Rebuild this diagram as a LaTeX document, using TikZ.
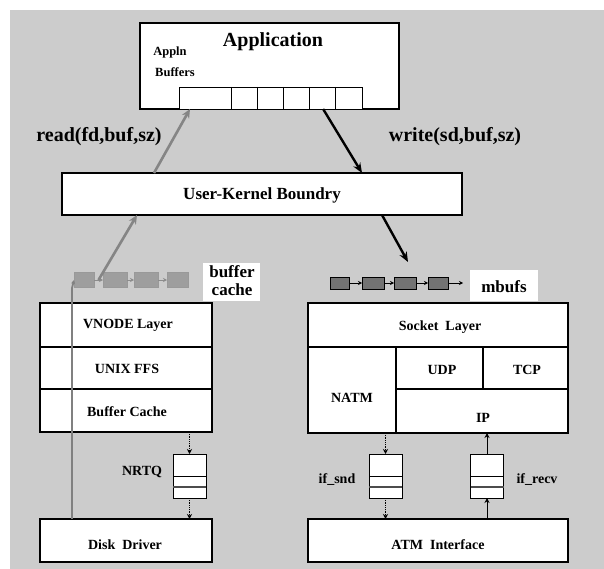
\documentclass[tikz,border=0pt]{standalone}
\usepackage{fontspec}
\setmainfont{Liberation Serif}
\usetikzlibrary{calc,arrows.meta}
\begin{document}
\begin{tikzpicture}[x=1pt,y=-1pt,
  box/.style={draw=black, line width=1.1pt, fill=white, inner sep=0pt, outer sep=0pt},
  qbox/.style={draw=black, line width=0.9pt, fill=white, inner sep=0pt, outer sep=0pt,
    minimum width=33pt, minimum height=44pt},
  lbl/.style={font=\bfseries\fontsize{14}{16}\selectfont, inner sep=0pt},
  smalllbl/.style={font=\bfseries\fontsize{12.5}{15}\selectfont, inner sep=0pt},
  midlbl/.style={font=\bfseries\fontsize{17}{18}\selectfont, inner sep=0pt, align=center},
  biglbl/.style={font=\bfseries\fontsize{20}{22}\selectfont, inner sep=0pt},
  readarrow/.style={draw=black!48, line width=2.6pt, -{Stealth[length=9pt,width=8pt]}},
  writearrow/.style={draw=black, line width=2.4pt, -{Stealth[length=10pt,width=8pt]}},
  linkarrow/.style={draw=black, line width=0.8pt, -{Stealth[length=4pt,width=4pt]}},
  graylink/.style={draw=black!45, line width=0.8pt, -{Stealth[length=4pt,width=4pt]}},
  qarrow/.style={draw=black, line width=0.8pt, densely dotted, -{Stealth[length=5pt,width=5pt]}},
  qsolid/.style={draw=black, line width=0.9pt, -{Stealth[length=5pt,width=5pt]}},
  mbuf/.style={draw=black, line width=0.6pt, fill=black!55, inner sep=0pt, outer sep=0pt,
    minimum height=12pt},
  cbuf/.style={draw=black!40, line width=0.6pt, fill=black!38, inner sep=0pt, outer sep=0pt,
    minimum height=15pt},
  tag/.style={fill=white, inner sep=0pt, outer sep=0pt}
]
% page and grainy background field
\useasboundingbox (0,0) rectangle (604,569);
\fill[white] (0,0) rectangle (604,569);
\fill[black!20] (10,10) rectangle (604,569);

% ---------- user space ----------
\node[box, minimum width=259pt, minimum height=86pt] (app) at (269.5,66) {};
\node[biglbl] (apptitle) at (273,42) {Application};
\node[smalllbl] (appln) at (170,52) {Appln};
\node[smalllbl] (appbuffers) at (175,72) {Buffers};
\node[box, line width=0.9pt, minimum width=183pt, minimum height=22pt] (appbuf) at (270.5,98) {};
\foreach \cx in {231,257,283,309,335}
  \draw[line width=0.9pt] (\cx,87) -- (\cx,109);

\node[box, minimum width=400pt, minimum height=42pt] (uk) at (262,194) {};
\node[lbl, font=\bfseries\fontsize{17}{19}\selectfont] (uktext) at (262,195) {User-Kernel Boundry};

\node[biglbl] (readlbl) at (99,137) {read(fd,buf,sz)};
\node[biglbl] (writelbl) at (455,137) {write(sd,buf,sz)};

\draw[readarrow] ($(uk.north west)!0.23!(uk.north east)$) -- ($(appbuf.south west)!0.06!(appbuf.south east)$);
\draw[writearrow] ($(app.south west)!0.707!(app.south east)$) -- ($(uk.north west)!0.75!(uk.north east)$);

% ---------- buffer cache chain ----------
\node[cbuf, minimum width=20pt] (bc1) at (84,280) {};
\node[cbuf, minimum width=24pt] (bc2) at (115,280) {};
\node[cbuf, minimum width=24pt] (bc3) at (146,280) {};
\node[cbuf, minimum width=21pt] (bc4) at (177.5,280) {};
\draw[graylink] (bc1) -- (bc2);
\draw[graylink] (bc2) -- (bc3);
\draw[graylink] (bc3) -- (bc4);
\node[tag, minimum width=57pt, minimum height=38pt] (bctag) at (231.5,282) {};
\node[midlbl] (bclbl) at (232,281) {buffer\\cache};

% ---------- mbuf chain ----------
\node[mbuf, minimum width=19pt] (mb1) at (339.5,283) {};
\node[mbuf, minimum width=22pt] (mb2) at (373,283) {};
\node[mbuf, minimum width=22pt] (mb3) at (405,283) {};
\node[mbuf, minimum width=20pt] (mb4) at (438,283) {};
\coordinate (mbend) at (463,283);
\draw[linkarrow] (mb1) -- (mb2);
\draw[linkarrow] (mb2) -- (mb3);
\draw[linkarrow] (mb3) -- (mb4);
\draw[linkarrow] (mb4) -- (mbend);
\node[tag, minimum width=68pt, minimum height=31pt] (mbtag) at (504,285.5) {};
\node[midlbl] (mblbl) at (504,287) {mbufs};

\draw[readarrow] ($(bc1.east)!0.5!(bc2.west)$) -- ($(uk.south west)!0.1875!(uk.south east)$);
\draw[writearrow] ($(uk.south west)!0.8!(uk.south east)$) -- ($(mb3.north)+(3,-15)$);

% ---------- file system stack ----------
\node[box, minimum width=172pt, minimum height=129pt] (fs) at (126,367.5) {};
\draw[line width=1.1pt] (40,347) -- (212,347);
\draw[line width=1.1pt] (40,389) -- (212,389);
\node[lbl] (vnode) at (128,325) {VNODE Layer};
\node[lbl] (ffs) at (127,369) {UNIX FFS};
\node[lbl] (bcache) at (127,412) {Buffer Cache};

% ---------- network stack ----------
\node[box, minimum width=260pt, minimum height=130pt] (sock) at (438,368) {};
\draw[line width=1.1pt] (308,347) -- (568,347);
\draw[line width=1.1pt] (396,347) -- (396,433);
\draw[line width=1.1pt] (483,347) -- (483,389);
\draw[line width=1.1pt] (396,389) -- (568,389);
\node[lbl] (socklbl) at (440,327) {Socket\ \ Layer};
\node[lbl] (udp) at (442,370) {UDP};
\node[lbl] (tcp) at (527,370) {TCP};
\node[lbl] (natm) at (352,398) {NATM};
\node[lbl] (ip) at (483,418) {IP};

% ---------- drivers ----------
\node[box, minimum width=172pt, minimum height=43pt] (disk) at (126,540.5) {};
\node[lbl] (disklbl) at (125,545) {Disk\ \ Driver};
\node[box, minimum width=260pt, minimum height=43pt] (atm) at (438,540.5) {};
\node[lbl] (atmlbl) at (438,545) {ATM\ \ Interface};

% ---------- queues ----------
\foreach \q/\cx in {nrtq/189.5, ifsnd/385.5, ifrecv/487} {
  \node[qbox] (\q) at (\cx,476) {};
  \draw[line width=0.9pt] ($(\q.north west)+(0,22)$) -- ($(\q.north east)+(0,22)$);
  \draw[line width=1.2pt, black!70] ($(\q.north west)+(0,33)$) -- ($(\q.north east)+(0,33)$);
}
\node[lbl] (nrtqlbl) at (142,472) {NRTQ};
\node[lbl] (ifsndlbl) at (337,480) {if\_snd};
\node[lbl] (ifrecvlbl) at (537,480) {if\_recv};

\draw[qarrow] (nrtq.north |- fs.south) -- (nrtq.north);
\draw[qarrow] (nrtq.south) -- (nrtq.south |- disk.north);
\draw[qarrow] (ifsnd.north |- sock.south) -- (ifsnd.north);
\draw[qarrow] (ifsnd.south) -- (ifsnd.south |- atm.north);
\draw[qsolid] (ifrecv.south |- atm.north) -- (ifrecv.south);
\draw[qsolid] (ifrecv.north) -- (ifrecv.north |- sock.south);

% raw disk path from the driver up to the buffer cache
\draw[draw=black!50, line width=1.8pt] (72,519) -- (72,303);
\draw[draw=black!50, line width=1.8pt, -{Stealth[length=4pt,width=4pt]}] (72,303) -- (72,288) -- (bc1.west);
\end{tikzpicture}
\end{document}
